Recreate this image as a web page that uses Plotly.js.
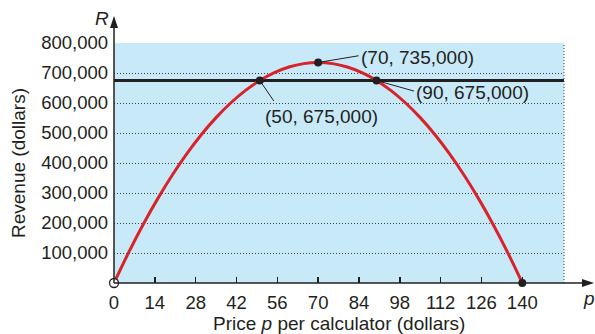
<!DOCTYPE html>
<html>
<head>
<meta charset="utf-8">
<script src="https://cdn.plot.ly/plotly-3.0.1.min.js"></script>
<style>html,body{margin:0;padding:0;background:#fff;}#chart{width:595px;height:334px;}</style>
</head>
<body>
<div id="chart"></div>
<script>
// ---- data ----
const price = [0,5,10,15,20,25,30,35,40,45,50,55,60,65,70,75,80,85,90,95,100,105,110,115,120,125,130,135,140];
const revenue = [0,101250,195000,281250,360000,431250,495000,551250,600000,641250,675000,701250,720000,731250,735000,731250,720000,701250,675000,641250,600000,551250,495000,431250,360000,281250,195000,101250,0];
const targetRevenue = 675000;
const labelledP = [50, 70, 90, 140];
const labelledR = [675000, 735000, 675000, 0];
const labelTexts = ["(50, 675,000)", "(70, 735,000)", "(90, 675,000)"];
const xTicks = [0,14,28,42,56,70,84,98,112,126,140];
const yTicks = [100000,200000,300000,400000,500000,600000,700000,800000];

// ---- geometry ----
const L = 114, T = 43, W = 450, H = 240;
const xMax = 154.3, yMax = 800000;
const px2paperX = px => (px - L) / W;
const px2paperY = py => (T + H - py) / H;

const font = "Liberation Sans, Arial, sans-serif";
const ink = "#231f20";

const traces = [
  {x: [0, xMax], y: [targetRevenue, targetRevenue], mode: "lines",
   line: {color: ink, width: 3}, cliponaxis: false},
  {x: price, y: revenue, mode: "lines", line: {color: "#d8232a", width: 3, shape: "spline"}},
  {x: [0], y: [0], mode: "markers", cliponaxis: false,
   marker: {size: 9, color: "#ffffff", line: {color: ink, width: 1.3}}},
  {x: labelledP, y: labelledR, mode: "markers", cliponaxis: false,
   marker: {size: 8, color: ink}}
];

const annotations = [];
// leader lines + labels (offsets in pixels)
const leaders = [
  {i: 0, ax: 15, ay: 22, tx: 62, ty: 36},
  {i: 1, ax: 42, ay: -7, tx: 99, ty: -5},
  {i: 2, ax: 39, ay: 11, tx: 96, ty: 12}
];
leaders.forEach(d => {
  annotations.push({x: labelledP[d.i], y: labelledR[d.i], xref: "x", yref: "y",
    text: "", showarrow: true, arrowhead: 0, arrowwidth: 1, arrowcolor: ink,
    ax: d.ax, ay: d.ay, standoff: 4});
  annotations.push({x: labelledP[d.i], y: labelledR[d.i], xref: "x", yref: "y",
    text: labelTexts[d.i], showarrow: false, xshift: d.tx, yshift: -d.ty,
    xanchor: "center", yanchor: "middle",
    font: {family: font, size: 19, color: ink}});
});
// axis letters and titles
const pa = (px, py, text, extra) => Object.assign({xref: "paper", yref: "paper",
  x: px2paperX(px), y: px2paperY(py), text: text, showarrow: false,
  xanchor: "center", yanchor: "middle", font: {family: font, size: 19, color: ink}}, extra || {});
annotations.push(pa(102, 19, "<i>R</i>"));
annotations.push(pa(589, 298, "<i>p</i>"));
annotations.push(pa(339, 323, "Price <i>p</i> per calculator (dollars)"));
annotations.push(pa(18, 163, "Revenue (dollars)", {textangle: -90}));

const shapes = [
  // right dotted border
  {type: "line", xref: "paper", yref: "paper", x0: 1, x1: 1, y0: 0, y1: 1,
   line: {color: "#444", width: 1, dash: "1px,2px"}},
  // x axis line
  {type: "line", xref: "paper", yref: "paper", x0: 0, x1: px2paperX(584), y0: 0, y1: 0,
   line: {color: ink, width: 1.5}},
  // y axis line
  {type: "line", xref: "paper", yref: "paper", x0: 0, x1: 0, y0: 0, y1: px2paperY(24),
   line: {color: ink, width: 1.5}},
  // x arrow head
  {type: "path", xref: "paper", yref: "paper", fillcolor: ink, line: {width: 0},
   path: `M ${px2paperX(594)} ${px2paperY(283)} L ${px2paperX(582)} ${px2paperY(279)} L ${px2paperX(582)} ${px2paperY(287)} Z`},
  // y arrow head
  {type: "path", xref: "paper", yref: "paper", fillcolor: ink, line: {width: 0},
   path: `M ${px2paperX(114)} ${px2paperY(16)} L ${px2paperX(110)} ${px2paperY(28)} L ${px2paperX(118)} ${px2paperY(28)} Z`}
];

const layout = {
  width: 595, height: 334,
  margin: {l: L, r: 595 - L - W, t: T, b: 334 - T - H, pad: 0},
  paper_bgcolor: "#ffffff", plot_bgcolor: "#c8e9f8",
  showlegend: false,
  font: {family: font, size: 18.5, color: ink},
  xaxis: {range: [0, xMax], tickvals: xTicks, ticktext: xTicks.map(String),
    ticks: "inside", ticklen: 6, tickwidth: 1.5, tickcolor: ink,
    showgrid: false, zeroline: false, showline: false, ticklabelstandoff: 6,
    tickfont: {family: font, size: 18.5, color: ink}},
  yaxis: {range: [0, yMax], tickvals: yTicks, tickformat: ",d", ticks: "",
    showgrid: true, gridcolor: "#444", griddash: "1px,2px", gridwidth: 1,
    zeroline: false, showline: false, ticklabelstandoff: 5,
    tickfont: {family: font, size: 18.5, color: ink}},
  shapes: shapes, annotations: annotations
};

Plotly.newPlot("chart", traces, layout, {staticPlot: true, displayModeBar: false});
</script>
</body>
</html>
